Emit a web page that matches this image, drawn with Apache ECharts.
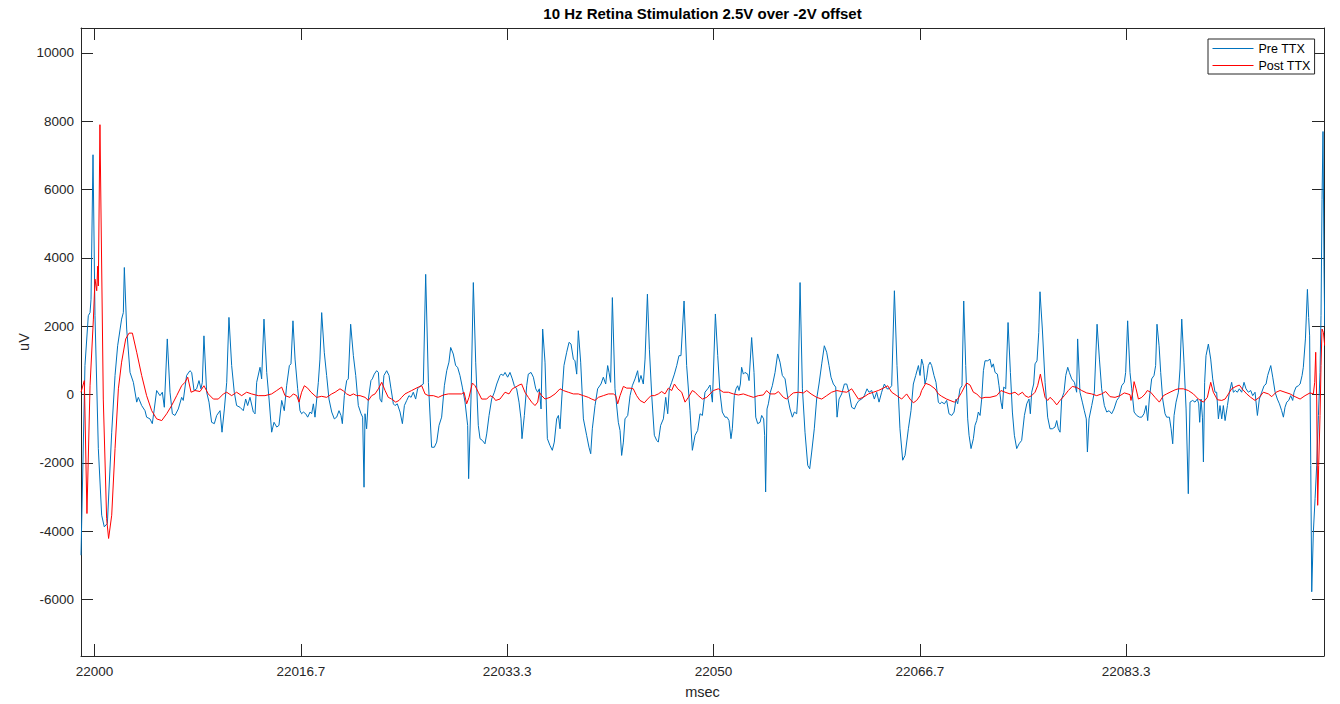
<!DOCTYPE html>
<html>
<head>
<meta charset="utf-8">
<script src="https://cdn.jsdelivr.net/npm/echarts@6/dist/echarts.min.js"></script>
<style>
  html, body { margin: 0; padding: 0; background: #fff; }
  #chart { width: 1340px; height: 704px; }
</style>
</head>
<body>
<div id="chart"></div>
<script>
// ---------- data (time in ms after 22000 ms, value in uV) ----------
const timeBase = 22000;
const titleText = '10 Hz Retina Stimulation 2.5V over -2V offset';
const xName = 'msec';
const yName = 'uV';
const seriesNames = ['Pre TTX', 'Post TTX'];
const xTickValues = [22000, 22016.667, 22033.333, 22050, 22066.667, 22083.333];
const xTickLabels = ['22000', '22016.7', '22033.3', '22050', '22066.7', '22083.3'];
const yTickValues = [-6000, -4000, -2000, 0, 2000, 4000, 6000, 8000, 10000];
const yTickLabels = ['-6000', '-4000', '-2000', '0', '2000', '4000', '6000', '8000', '10000'];
const xRange = [21998.91, 22099.31];
const yRange = [-7650, 10730];

const preTTX = [
[-1.09,-4700],[-0.77,850],[-0.50,2310],[-0.36,2400],[-0.28,2790],[-0.12,7020],[0.04,2310],[0.31,-1580],[0.58,-3530],[0.79,-3870],[1.04,-3770],[1.39,-1100],[1.66,560],[1.87,1430],[2.19,2210],[2.33,2400],[2.41,3720],[2.60,1920],[2.87,650],[3.14,360],[3.41,-220],[3.54,-80],[3.81,-320],[4.08,-470],[4.21,-660],[4.48,-710],[4.67,-850],[4.83,-420],[5.02,120],[5.29,-30],[5.48,70],[5.64,-370],[5.88,1630],[6.10,70],[6.29,-560],[6.50,-610],[6.77,-420],[7.04,-80],[7.17,-170],[7.44,560],[7.71,700],[7.85,650],[8.04,120],[8.25,170],[8.44,410],[8.60,170],[8.71,360],[8.84,1720],[9.06,70],[9.25,-220],[9.46,-810],[9.68,-850],[9.87,-610],[10.14,-470],[10.30,-1100],[10.49,-420],[10.68,360],[10.86,2260],[11.08,850],[11.29,70],[11.48,-320],[11.75,-370],[12.02,-470],[12.21,-130],[12.37,-320],[12.56,-80],[12.83,-510],[12.97,-560],[13.10,360],[13.37,800],[13.50,460],[13.69,2210],[13.91,650],[14.10,-130],[14.31,-1100],[14.50,-810],[14.72,-950],[14.90,-900],[15.12,-170],[15.33,-470],[15.52,260],[15.74,850],
[15.87,900],[16.03,2160],[16.20,1040],[16.41,170],[16.60,-470],[16.73,-560],[16.87,-510],[17.06,-560],[17.22,-660],[17.41,-510],[17.54,-560],[17.68,-270],[17.81,-660],[18.08,360],[18.21,1040],[18.35,2400],[18.56,1240],[18.75,560],[18.94,-130],[19.16,-510],[19.37,-710],[19.56,-660],[19.75,-470],[19.91,-610],[20.02,-850],[20.18,-30],[20.37,410],[20.50,460],[20.69,2060],[20.91,1140],[21.10,560],[21.31,-320],[21.53,-560],[21.66,-660],[21.77,-2710],[21.85,-560],[21.98,-1000],[22.12,-130],[22.33,410],[22.44,460],[22.60,600],[22.79,700],[22.93,650],[23.06,-130],[23.20,-220],[23.38,560],[23.60,700],[23.79,560],[23.95,170],[24.14,-270],[24.27,-320],[24.46,-270],[24.68,-510],[24.87,-850],[25.03,-320],[25.22,-170],[25.40,-30],[25.57,-80],[25.75,70],[25.94,-130],[26.10,170],[26.29,240],[26.56,310],[26.75,3520],[26.97,360],[27.23,-1540],[27.45,-1540],[27.64,-1390],[27.83,-900],[28.04,-660],[28.26,260],[28.45,700],[28.63,950],[28.77,1380],[28.98,1190],[29.17,850],[29.33,800],[29.52,560],[29.71,220],[29.93,-220],[30.14,-900],[30.22,-2460],[30.41,-130],[30.60,3280],[30.79,950],[31.00,-900],[31.14,-1290],[31.33,-1340],[31.54,-1440],[31.68,-1150],[31.87,-610],[32.08,-130],[32.30,70],[32.49,310],[32.75,560],
[32.84,600],[33.02,560],[33.16,650],[33.37,510],[33.56,650],[33.75,460],[33.91,260],[34.10,170],[34.29,-220],[34.45,-710],[34.53,-1290],[34.72,-610],[34.91,260],[35.04,600],[35.26,650],[35.45,510],[35.64,170],[35.80,70],[35.93,170],[36.07,-420],[36.20,1920],[36.39,950],[36.58,-1290],[36.79,-1490],[36.98,-1630],[37.14,-1390],[37.33,-710],[37.47,-610],[37.60,-1000],[37.74,-130],[37.92,850],[38.14,1240],[38.33,1530],[38.49,1480],[38.68,1040],[38.81,990],[38.95,600],[39.08,1870],[39.27,950],[39.49,-710],[39.75,-1190],[39.94,-1540],[40.08,-1730],[40.21,-1000],[40.43,-320],[40.64,170],[40.91,310],[41.10,510],[41.29,310],[41.45,850],[41.56,650],[41.69,360],[41.83,2840],[42.04,170],[42.31,-810],[42.45,-1050],[42.58,-1780],[42.72,-1390],[42.85,-710],[43.07,-610],[43.26,-30],[43.44,260],[43.66,460],[43.87,700],[43.98,360],[44.14,560],[44.33,310],[44.47,1040],[44.66,2940],[44.82,1330],[45.01,-30],[45.22,-1190],[45.41,-1340],[45.54,-1390],[45.73,-900],[45.95,-710],[46.14,-80],[46.30,-560],[46.43,170],[46.62,360],[46.84,600],[47.03,850],[47.21,1140],[47.37,1140],[47.62,2740],[47.83,850],[48.10,-470],[48.29,-1630],[48.51,-1190],[48.72,-1050],[48.91,-560],[49.10,-610],[49.31,70],[49.53,170],
[49.72,280],[49.91,-220],[50.15,2360],[50.34,1140],[50.52,70],[50.71,-510],[50.93,-660],[51.09,-660],[51.25,-760],[51.41,-1290],[51.52,-1000],[51.68,-30],[51.82,170],[51.95,260],[52.06,120],[52.17,310],[52.27,800],[52.41,600],[52.54,650],[52.76,600],[52.87,410],[53.08,1670],[53.27,650],[53.41,-660],[53.57,-850],[53.76,-810],[53.89,-610],[54.05,-710],[54.13,-1190],[54.21,-2850],[54.32,-420],[54.43,-270],[54.59,70],[54.75,260],[54.97,650],[55.18,1190],[55.37,950],[55.56,560],[55.78,460],[55.99,-80],[56.18,-420],[56.37,-660],[56.53,-510],[56.72,-560],[56.83,70],[56.99,3280],[57.18,170],[57.39,-1100],[57.61,-2070],[57.77,-2170],[57.93,-1680],[58.14,-1000],[58.33,-130],[58.52,310],[58.74,900],[58.95,1430],[59.14,1240],[59.33,850],[59.49,510],[59.68,310],[59.87,220],[59.98,-660],[60.14,-130],[60.35,20],[60.57,310],[60.76,310],[60.94,70],[61.16,-370],[61.38,-420],[61.56,-270],[61.75,-170],[61.97,-130],[62.18,-30],[62.40,170],[62.56,70],[62.78,120],[62.99,-130],[63.18,70],[63.37,-220],[63.58,70],[63.80,310],[64.01,170],[64.18,170],[64.39,260],[64.61,3040],[64.82,850],[65.06,-1000],[65.28,-1920],[65.47,-1780],[65.74,-1000],[65.95,-470],[66.14,310],[66.33,560],[66.55,850],
[66.68,560],[66.81,1040],[66.95,850],[67.08,310],[67.22,510],[67.35,850],[67.49,950],[67.62,850],[67.81,560],[67.97,360],[68.16,-220],[68.29,-270],[68.43,-220],[68.65,-270],[68.83,-170],[69.02,-560],[69.24,-610],[69.43,-510],[69.59,-130],[69.72,-270],[69.91,170],[70.07,260],[70.21,2740],[70.37,850],[70.53,-710],[70.64,-1190],[70.80,-1580],[70.99,-1290],[71.12,-900],[71.26,-760],[71.39,-510],[71.53,-610],[71.66,-130],[71.80,700],[71.93,990],[72.15,990],[72.33,1040],[72.47,800],[72.60,900],[72.74,650],[72.93,600],[73.06,260],[73.22,-220],[73.33,-420],[73.44,220],[73.60,170],[73.79,2110],[73.98,650],[74.14,-510],[74.30,-1190],[74.49,-1580],[74.68,-1440],[74.89,-1340],[75.11,-610],[75.30,-270],[75.48,-130],[75.59,-560],[75.70,70],[75.86,310],[75.97,900],[76.13,990],[76.27,1820],[76.37,3010],[76.56,1920],[76.78,360],[76.99,-660],[77.18,-1000],[77.37,-1000],[77.58,-950],[77.72,-760],[77.85,-1000],[77.99,-1100],[78.12,-130],[78.31,70],[78.45,560],[78.61,800],[78.74,650],[78.93,460],[79.15,360],[79.33,70],[79.41,1630],[79.60,70],[79.79,-220],[79.95,-470],[80.11,-710],[80.20,-1680],[80.33,-710],[80.55,-320],[80.76,70],[80.98,2060],[81.17,1040],[81.35,170],[81.57,-320],[81.76,-510],[81.95,-470],[82.16,-560],[82.35,-420],[82.57,-170],[82.75,-80],[82.97,260],[83.18,360],[83.29,650],[83.45,2160],[83.64,650],
[83.78,170],[83.97,-510],[84.18,-610],[84.40,-660],[84.59,-660],[84.77,-560],[84.94,-320],[85.07,-760],[85.20,-130],[85.39,460],[85.58,560],[85.71,850],[85.82,2060],[85.99,1430],[86.12,650],[86.28,-130],[86.47,-560],[86.60,-660],[86.82,-660],[86.96,-1000],[87.09,-1440],[87.20,-610],[87.36,-220],[87.55,70],[87.68,750],[87.82,2210],[88.00,950],[88.17,-420],[88.35,-2900],[88.49,-220],[88.70,-170],[88.89,-220],[89.08,-130],[89.19,-270],[89.27,-810],[89.38,-130],[89.49,-660],[89.57,-1970],[89.67,360],[89.78,1140],[89.97,1480],[90.16,1040],[90.32,460],[90.51,70],[90.64,70],[90.78,-710],[90.91,-320],[91.05,-710],[91.18,-320],[91.32,-760],[91.51,-320],[91.67,70],[91.85,360],[91.99,70],[92.15,120],[92.31,70],[92.47,170],[92.66,70],[92.85,360],[93.01,170],[93.20,70],[93.39,120],[93.55,-30],[93.74,70],[93.93,-610],[94.09,-130],[94.28,70],[94.47,260],[94.63,310],[94.76,560],[95.01,850],[95.17,510],[95.36,70],[95.54,-130],[95.71,-270],[95.89,-470],[96.03,-660],[96.16,-370],[96.30,-220],[96.46,-170],[96.62,-30],[96.78,-170],[96.89,70],[97.05,220],[97.24,260],[97.38,310],[97.54,560],[97.64,800],[97.81,1630],[97.97,3080],[98.07,2260],[98.15,1720],[98.24,-2070],[98.32,-5770],[98.45,-4020],[98.59,-3040],[98.72,-2070],[98.86,-610],[98.99,650],[99.07,2310],[99.15,5710],[99.23,7700],[99.31,3760],[99.37,2010]
];

const postTTX = [
[-1.09,70],[-0.82,410],[-0.61,-3480],[-0.36,260],[-0.09,2210],[0.04,3380],[0.18,3040],[0.26,3760],[0.31,3180],[0.44,7900],[0.71,-130],[0.98,-3630],[1.14,-4210],[1.39,-3530],[1.66,-1580],[1.93,170],[2.19,950],[2.52,1630],[2.79,1800],[3.06,1800],[3.41,1240],[3.81,560],[4.21,-30],[4.62,-470],[5.02,-710],[5.43,-760],[5.83,-560],[6.23,-320],[6.64,-30],[7.04,260],[7.31,360],[7.53,510],[7.80,70],[8.12,120],[8.52,90],[8.84,260],[9.19,20],[9.60,-130],[10.00,-130],[10.41,20],[10.68,70],[11.08,-30],[11.48,70],[11.89,-30],[12.29,70],[12.69,20],[13.23,-30],[13.77,-30],[14.31,20],[14.72,120],[15.12,220],[15.39,-30],[15.79,-80],
[16.06,20],[16.33,-30],[16.52,-220],[16.73,70],[16.95,260],[17.22,190],[17.49,70],[17.95,-80],[18.35,-50],[18.75,-80],[19.16,20],[19.43,70],[19.83,170],[20.10,110],[20.37,20],[20.64,-30],[20.91,20],[21.18,-30],[21.45,-30],[21.85,-80],[22.12,-170],[22.39,-30],[22.66,20],[22.93,170],[23.20,360],[23.47,120],[23.73,-80],[24.00,-130],[24.33,-220],[24.60,-170],[24.81,-80],[25.08,20],[25.35,70],[25.62,120],[25.89,170],[26.16,220],[26.43,260],[26.70,20],[26.97,-30],[27.37,-30],[27.77,-80],[28.18,-10],[28.58,20],[29.12,20],[29.66,20],[29.85,70],[30.06,-270],[30.25,-80],[30.52,340],[30.74,260],[31.00,70],[31.27,-130],[31.68,-130],[31.95,-30],[32.22,-80],[32.40,-170],[32.75,-130],
[33.16,70],[33.48,20],[33.75,170],[34.02,220],[34.29,280],[34.50,310],[34.77,70],[35.04,-80],[35.31,-220],[35.58,-320],[35.80,-220],[35.93,70],[36.12,-30],[36.39,-130],[36.79,-80],[37.20,20],[37.60,170],[37.87,120],[38.27,70],[38.68,20],[39.08,20],[39.49,-30],[39.89,-80],[40.16,-130],[40.43,-170],[40.70,-80],[41.10,-30],[41.51,20],[41.91,20],[42.10,-30],[42.26,-270],[42.45,-30],[42.72,240],[42.99,190],[43.26,190],[43.52,170],[43.79,-30],[44.06,-170],[44.41,-240],[44.68,-130],[44.95,-30],[45.22,-30],[45.54,20],[45.81,90],[46.08,20],[46.35,190],[46.62,120],[46.84,310],[47.11,170],[47.43,70],[47.70,-220],[47.97,-80],[48.29,120],[48.51,70],[48.77,-30],[49.10,-130],[49.45,-80],[49.72,20],
[49.99,120],[50.39,170],[50.79,70],[51.20,70],[51.60,20],[52.01,-10],[52.41,20],[52.81,-30],[53.22,-80],[53.62,-30],[54.02,-10],[54.29,120],[54.56,20],[54.97,20],[55.24,90],[55.64,-80],[55.91,-130],[56.18,-30],[56.45,50],[56.85,70],[57.26,50],[57.53,120],[57.88,20],[58.33,-80],[58.74,-130],[59.14,-30],[59.54,70],[59.95,120],[60.35,90],[60.76,70],[61.16,170],[61.43,20],[61.70,-130],[62.10,-80],[62.51,20],[62.91,70],[63.31,120],[63.72,190],[64.07,260],[64.39,70],[64.80,-30],[65.20,-130],[65.60,20],[65.87,-130],[66.14,-240],[66.41,-170],[66.68,-30],
[66.81,120],[67.14,330],[67.49,280],[67.89,170],[68.16,20],[68.43,-50],[68.83,-130],[69.10,-170],[69.45,-220],[69.72,-130],[70.05,70],[70.26,220],[70.45,340],[70.72,280],[70.99,70],[71.26,20],[71.61,-110],[71.93,-80],[72.33,-80],[72.87,-30],[73.22,120],[73.55,70],[73.95,20],[74.35,70],[74.62,-10],[74.95,70],[75.16,-30],[75.43,-80],[75.70,-30],[75.97,70],[76.18,260],[76.40,600],[76.56,310],[76.78,-80],[76.99,-170],[77.18,-80],[77.45,-170],[77.72,-300],[77.99,-170],[78.34,-30],[78.66,120],[78.98,240],[79.33,210],[79.74,120],[80.14,50],[80.55,20],[80.95,-30],[81.35,20],[81.68,90],[82.03,-60],[82.43,-80],[82.84,-30],[83.18,50],[83.64,0],
[83.72,-170],[83.86,70],[83.97,380],[84.13,170],[84.32,-130],[84.59,-80],[84.86,20],[85.04,120],[85.31,70],[85.66,-80],[86.01,-220],[86.34,-30],[86.60,20],[86.87,70],[87.28,140],[87.55,170],[87.95,170],[88.35,120],[88.76,20],[89.16,-130],[89.57,-220],[89.89,-80],[90.16,360],[90.37,70],[90.70,-150],[91.05,-170],[91.32,-130],[91.59,20],[91.85,170],[92.20,240],[92.47,280],[92.74,150],[93.07,20],[93.39,-80],[93.74,-170],[94.09,-80],[94.41,70],[94.82,20],[95.09,-60],[95.44,70],[95.76,120],[96.16,70],[96.57,20],[96.97,-60],[97.38,-130],[97.78,-30],[98.18,50],[98.45,20],[98.56,360],[98.64,1240],[98.72,-130],[98.80,-3240],[98.88,-2070],[98.99,-610],[99.07,850],[99.15,1920],[99.26,1820],[99.37,1430]
];

// ---------- chart ----------
const FONT = '"Liberation Sans", Arial, Helvetica, sans-serif';
const AX = '#262626';
const toSeries = arr => arr.map(p => [timeBase + p[0], p[1]]);
const nearestLabel = (vals, labels) => v => {
  let best = 0, bd = Infinity;
  vals.forEach((t, i) => { const d = Math.abs(t - v); if (d < bd) { bd = d; best = i; } });
  return labels[best];
};

const chart = echarts.init(document.getElementById('chart'), null, { renderer: 'svg', width: 1340, height: 704 });

const baseX = {
  type: 'value', min: xRange[0], max: xRange[1],
  axisLine: { show: true, onZero: false, lineStyle: { color: AX, width: 1 } },
  axisTick: { show: true, inside: true, length: 12, customValues: xTickValues, lineStyle: { color: AX, width: 1 } },
  splitLine: { show: false }
};
const baseY = {
  type: 'value', min: yRange[0], max: yRange[1],
  axisLine: { show: true, onZero: false, lineStyle: { color: AX, width: 1 } },
  axisTick: { show: true, inside: true, length: 12, customValues: yTickValues, lineStyle: { color: AX, width: 1 } },
  splitLine: { show: false }
};

chart.setOption({
  animation: false,
  backgroundColor: '#ffffff',
  textStyle: { fontFamily: FONT },
  grid: { left: 81, top: 28, right: 16, bottom: 46, containLabel: false },
  graphic: [{
    type: 'text', x: 702.5, y: 13, z: 100,
    style: { text: titleText, font: 'bold 15px ' + FONT, fill: '#000', align: 'center', verticalAlign: 'middle' }
  }],
  legend: {
    orient: 'vertical', left: 1208, top: 39,
    data: seriesNames,
    itemWidth: 41, itemHeight: 14, itemGap: 4,
    padding: [3, 4, 2, 4],
    borderColor: AX, borderWidth: 1, backgroundColor: '#fff',
    itemStyle: { opacity: 0 },
    lineStyle: { width: 1 },
    textStyle: { fontFamily: FONT, fontSize: 12.5, color: '#000' }
  },
  xAxis: [
    Object.assign({}, baseX, {
      position: 'bottom',
      axisLabel: { show: true, customValues: xTickValues, formatter: nearestLabel(xTickValues, xTickLabels), color: AX, fontSize: 13.5, fontFamily: FONT, margin: 8 },
      name: xName, nameLocation: 'middle', nameGap: 28,
      nameTextStyle: { color: AX, fontSize: 14.5, fontFamily: FONT }
    }),
    Object.assign({}, baseX, { position: 'top', axisLabel: { show: false } })
  ],
  yAxis: [
    Object.assign({}, baseY, {
      position: 'left',
      axisLabel: { show: true, customValues: yTickValues, formatter: nearestLabel(yTickValues, yTickLabels), color: AX, fontSize: 13.5, fontFamily: FONT, margin: 7 },
      name: yName, nameLocation: 'middle', nameGap: 50, nameMoveOverlap: false,
      nameTextStyle: { color: AX, fontSize: 14.5, fontFamily: FONT }
    }),
    Object.assign({}, baseY, { position: 'right', axisLabel: { show: false } })
  ],
  series: [
    {
      name: seriesNames[0], type: 'line', xAxisIndex: 0, yAxisIndex: 0,
      data: toSeries(preTTX), showSymbol: false, symbol: 'none',
      lineStyle: { color: '#0072BD', width: 1 }, itemStyle: { color: '#0072BD' }, z: 2
    },
    {
      name: seriesNames[1], type: 'line', xAxisIndex: 0, yAxisIndex: 0,
      data: toSeries(postTTX), showSymbol: false, symbol: 'none',
      lineStyle: { color: '#FF0000', width: 1 }, itemStyle: { color: '#FF0000' }, z: 3
    }
  ]
});
</script>
</body>
</html>
